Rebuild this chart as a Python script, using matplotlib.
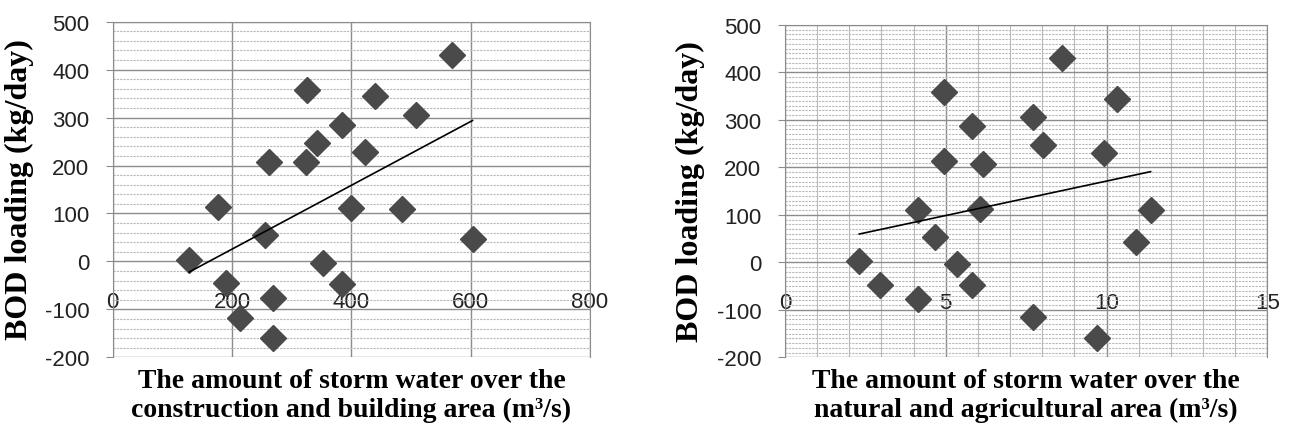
import numpy as np
import matplotlib
matplotlib.use("Agg")
import matplotlib.pyplot as plt
from matplotlib.ticker import MultipleLocator

# storm water over construction / building area (m3/s) vs BOD loading (kg/day)
x_build = [568, 325, 440, 508, 384, 342, 422, 262, 324, 176, 400,
           485, 255, 603, 128, 353, 190, 384, 269, 214, 269]
bod_build = [430, 358, 345, 306, 285, 248, 228, 207, 207, 113, 112,
             110, 56, 46, 2, -4, -45, -48, -76, -117, -160]

# storm water over natural / agricultural area (m3/s) vs BOD loading (kg/day)
x_nat = [8.63, 10.34, 7.72, 5.81, 8.03, 9.92, 6.17, 6.07, 11.37, 10.91, 5.35,
         5.81, 7.72, 9.69, 4.95, 4.94, 4.15, 4.67, 2.31, 2.95, 4.15]
bod_nat = [430, 345, 306, 287, 248, 230, 208, 113, 111, 42, -4,
           -48, -116, -160, 359, 213, 111, 53, 2, -48, -78]

xlabel_build = "The amount of storm water over the\nconstruction and building area (m\u00b3/s)"
xlabel_nat = "The amount of storm water over the\nnatural and agricultural area (m\u00b3/s)"
ylabel = "BOD loading (kg/day)"

plt.rcParams['font.family'] = ['Liberation Sans', 'DejaVu Sans']
plt.rcParams['axes.unicode_minus'] = False

fig = plt.figure(figsize=(12.9, 4.39), dpi=100)
ax1 = fig.add_axes([0.0874, 0.1838, 0.370, 0.7645])
ax2 = fig.add_axes([0.6085, 0.1838, 0.3739, 0.757])

marker_col = '#4a4a4a'
major_col = '#8c8c8c'
minor_col = '#b8b8b8'


def setup(ax, x, y, xmax, xmajor, yminor, vminor, xlab):
    ax.set_xlim(0, xmax)
    ax.set_ylim(-200, 500)
    ax.xaxis.set_major_locator(MultipleLocator(xmajor))
    ax.yaxis.set_major_locator(MultipleLocator(100))
    ax.yaxis.set_minor_locator(MultipleLocator(yminor))
    if vminor:
        ax.xaxis.set_minor_locator(MultipleLocator(vminor))
        ax.grid(which='minor', axis='x', color=minor_col, lw=0.8)
    ax.grid(which='minor', axis='y', color=minor_col, lw=0.8, ls=(0, (2, 1)))
    ax.grid(which='major', color=major_col, lw=1.0)
    ax.set_axisbelow(True)
    for s in ax.spines.values():
        s.set_color(major_col)
    ax.spines['bottom'].set_position(('data', 0))
    ax.spines['bottom'].set_visible(False)
    ax.tick_params(axis='y', which='major', direction='out', length=5,
                   color=major_col, labelsize=16, labelcolor='#222222', pad=12)
    ax.tick_params(axis='x', which='major', length=0, labelsize=16,
                   labelcolor='#222222', pad=21)
    ax.tick_params(which='minor', length=0)

    ax.plot(x, y, ls='none', marker='D', ms=13, color=marker_col, zorder=3)
    # linear trendline over the data range
    k, b = np.polyfit(x, y, 1)
    xs = np.array([min(x), max(x)])
    ax.plot(xs, k * xs + b, color='black', lw=1.2, zorder=4)

    ax.set_ylabel(ylabel, family='Liberation Serif', fontweight='bold',
                  fontsize=23)
    ax.yaxis.set_label_coords(-0.166, 0.503)
    ax.text(0.5, -0.032, xlab, transform=ax.transAxes, ha='center', va='top',
            family='Liberation Serif', fontweight='bold', fontsize=20,
            linespacing=1.2)


setup(ax1, x_build, bod_build, 800, 200, 20, None, xlabel_build)
setup(ax2, x_nat, bod_nat, 15, 5, 10, 1, xlabel_nat)

fig.savefig('out.png', dpi=100)
